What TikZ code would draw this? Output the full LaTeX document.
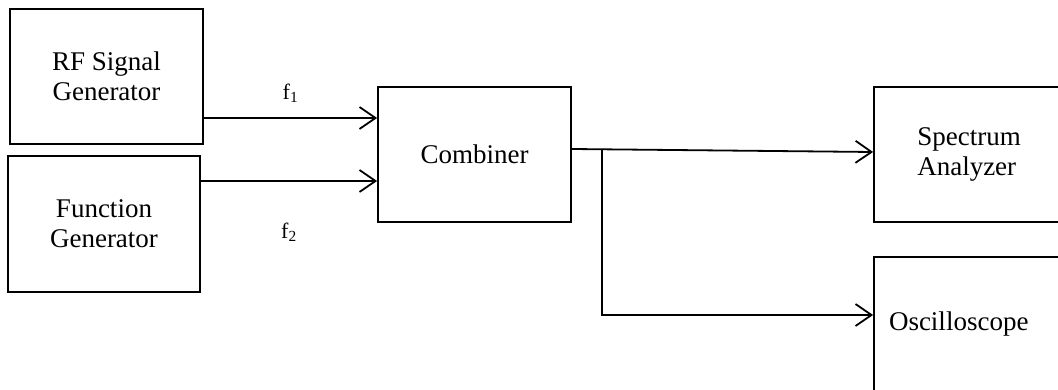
\documentclass[tikz,border=0pt]{standalone}
\usepackage{fontspec}
\setmainfont{Liberation Serif}
\usepackage{tikz}
\usetikzlibrary{shapes,arrows,arrows.meta}
\tikzset{
  block/.style = {draw, line width=1.8pt, rectangle,
                  minimum width=193pt, minimum height=135pt,
                  font=\fontsize{27}{30}\selectfont, align=center},
  sig/.style   = {line width=1.8pt, -{Straight Barb[length=16pt,width=22pt,line width=1.8pt]}},
  lab/.style   = {font=\fontsize{22}{24}\selectfont}
}

\begin{document}
\begin{tikzpicture}[x=1pt,y=-1pt]
	\useasboundingbox (0,0) rectangle (1058,390);
	\node[block] (R) at (106.5,76.5) {RF Signal\\Generator};
	\node[block, minimum width=192pt, minimum height=136pt] (F) at (104,224) {Function\\Generator};
	\node[block] (C) at (474.5,154.5) {Combiner};
	\node[block, align=left, minimum width=190pt] (S) at (969,154.5) {Spectrum\\Analyzer};
	\node[block, align=left, text width=170pt, inner xsep=15pt] (O) at (974,324.5) {Oscilloscope};
	\coordinate (J) at (602,149);
	\draw[sig] (R.east |- 0,118) -- node[lab, above=11pt] {f\textsubscript{1}} (C.west |- 0,118);
	\draw[sig] (F.east |- 0,181) -- node[lab, below=38pt] {f\textsubscript{2}} (C.west |- 0,181);
	\draw[sig] (C.east |- 0,149) -- (S.west |- 0,152);
	\draw[sig] (J) |- (O.west |- 0,315);
\end{tikzpicture}
\end{document}
